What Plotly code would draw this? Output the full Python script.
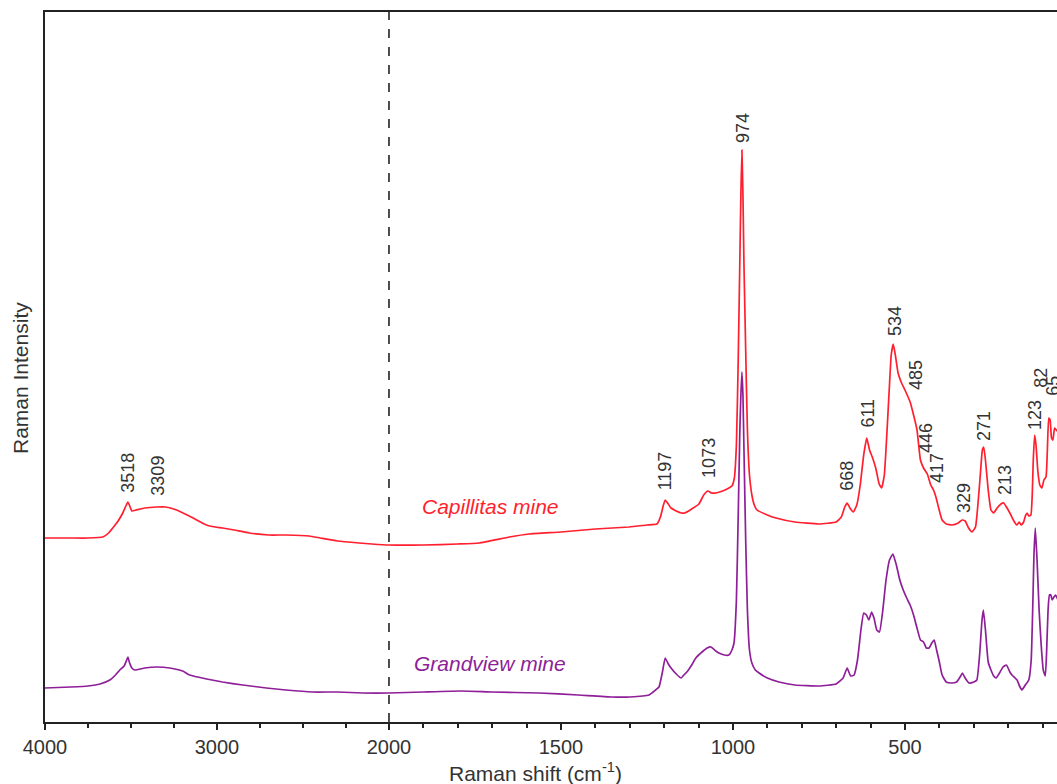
import plotly.graph_objects as go

# ---------------- data (Raman shift in cm-1, intensity in arbitrary units) ----------------
cap_shift = [4000, 3850, 3750, 3664, 3630, 3606, 3575, 3548, 3530, 3518, 3505, 3495, 3470, 3420,
             3351, 3300, 3235, 3150, 3061, 3010, 2968, 2900, 2812, 2700, 2600, 2464, 2400, 2300,
             2174, 2100, 2000, 1900, 1800, 1738, 1650, 1593, 1500, 1400, 1302, 1250, 1221, 1210,
             1203, 1197, 1190, 1180, 1165, 1150, 1140, 1120, 1099, 1085, 1073, 1062, 1050, 1030,
             1012, 1003, 996, 990, 985, 980, 977, 974, 971, 968, 963, 958, 952, 945, 938, 930,
             900, 875, 820, 750, 700, 685, 675, 668, 660, 650, 640, 630, 620, 611, 603, 595, 585,
             575, 568, 560, 552, 545, 540, 534, 528, 520, 510, 500, 485, 475, 465, 455, 446, 435,
             425, 417, 410, 402, 392, 380, 363, 345, 334, 325, 315, 305, 295, 288, 281, 275, 271,
             266, 258, 250, 242, 232, 221, 213, 205, 195, 185, 175, 168, 162, 155, 150, 145, 140,
             134, 130, 127, 123, 119, 114, 108, 102, 96, 90, 86, 82, 78, 74, 70, 65, 60, 55]
cap_int = [184, 184, 184, 185, 189, 194, 201, 209, 216, 220, 215, 211, 212, 214,
           215, 215, 212, 205, 197, 195, 194, 192, 189, 187, 187, 186, 184, 181,
           179, 178, 177, 177, 178, 179, 185, 188, 190, 193, 195, 197, 198, 206,
           216, 222, 219, 214, 211, 209, 209, 213, 218, 227, 231, 229, 229, 231,
           234, 236, 244, 277, 357, 462, 527, 572, 527, 457, 372, 292, 247, 227, 217, 212,
           207, 204, 200, 198, 200, 205, 215, 219, 214, 210, 217, 237, 267, 284, 272, 265, 254,
           238, 234, 247, 292, 337, 367, 378, 367, 349, 339, 332, 320, 307, 292, 262, 254, 248,
           237, 232, 225, 214, 202, 198, 197, 199, 202, 201, 194, 190, 195, 217, 247, 272, 275,
           262, 232, 212, 209, 214, 218, 219, 215, 209, 202, 197, 200, 197, 200, 206, 209, 206,
           207, 227, 262, 287, 277, 252, 237, 234, 242, 245, 272, 304, 302, 284, 282, 294, 292, 290]

grand_shift = [4000, 3850, 3750, 3680, 3623, 3590, 3565, 3540, 3525, 3518, 3510, 3495, 3478, 3420,
               3351, 3275, 3200, 3159, 3060, 2968, 2850, 2713, 2600, 2446, 2300, 2150, 2000, 1900,
               1788, 1700, 1564, 1450, 1352, 1300, 1244, 1225, 1215, 1205, 1197, 1188, 1180, 1165,
               1151, 1140, 1134, 1120, 1108, 1090, 1075, 1064, 1050, 1041, 1025, 1012, 1003, 997,
               990, 985, 980, 977, 974, 971, 968, 963, 958, 952, 945, 935, 924, 900, 866, 820,
               750, 700, 680, 668, 658, 648, 638, 628, 620, 612, 605, 597, 590, 582, 574, 565,
               555, 545, 535, 525, 515, 505, 495, 485, 475, 465, 455, 446, 438, 430, 422, 415,
               408, 400, 392, 380, 365, 350, 338, 333, 325, 314, 300, 291, 283, 276, 272, 266,
               258, 250, 242, 235, 225, 215, 205, 195, 189, 180, 174, 167, 160, 150, 140, 133,
               128, 125, 121, 116, 110, 104, 98, 92, 88, 84, 80, 76, 72, 67, 62, 55]
grand_int = [34, 35, 36, 38, 42, 47, 52, 56, 62, 65, 60, 54, 52, 54,
             55, 54, 51, 47, 43, 40, 37, 34, 32, 30, 30, 29, 29, 30,
             31, 30, 29, 27, 25, 25, 27, 32, 35, 50, 64, 58, 54, 48,
             44, 48, 50, 57, 64, 70, 74, 75, 71, 69, 67, 67, 72, 79,
             122, 202, 292, 327, 350, 327, 272, 182, 112, 72, 59, 52, 49, 44, 40, 37,
             36, 38, 44, 54, 46, 47, 62, 92, 109, 107, 102, 110, 104, 92, 90, 110,
             142, 162, 168, 157, 142, 132, 124, 117, 107, 94, 82, 80, 74, 74, 79, 82,
             72, 60, 47, 40, 39, 40, 46, 49, 44, 39, 40, 42, 67, 102, 112, 92,
             60, 52, 46, 44, 49, 55, 57, 50, 47, 44, 42, 36, 32, 37, 42, 62,
             122, 167, 194, 162, 112, 77, 52, 46, 72, 112, 127, 127, 122, 125, 127, 122]

peak_labels = ["3518", "3309", "1197", "1073", "974", "668", "611", "534", "485", "446",
               "417", "329", "271", "213", "123", "82", "65"]
label_shift = [3519, 3345, 1198, 1070, 971, 669, 610, 529, 468, 439,
               407, 328, 270, 209, 122, 105, 70]
label_height = [227, 224, 230, 242, 577, 229, 292, 384, 330, 267,
                237, 207, 279, 225, 290, 332, 324]

tick_shift = [4000, 3000, 2000, 1500, 1000, 500]
minor_shift = [3750, 3500, 3250, 2750, 2500, 2250,
               1900, 1800, 1700, 1600, 1400, 1300, 1200, 1100,
               900, 800, 700, 600, 400, 300, 200, 100]

RED = "#ff1f2e"
PURPLE = "#8e1f98"
TXT = "#333333"
FONT = "Liberation Sans, Arial, sans-serif"


def brk(v):
    """Broken axis: region above 2000 cm-1 is compressed by a factor of 2."""
    return v if v <= 2000 else 2000 + (v - 2000) / 2.0


fig = go.Figure()
fig.add_trace(go.Scatter(x=[brk(v) for v in cap_shift], y=cap_int, mode="lines",
                         line=dict(color=RED, width=1.7, shape="spline", smoothing=0.4),
                         name="Capillitas mine", showlegend=False))
fig.add_trace(go.Scatter(x=[brk(v) for v in grand_shift], y=grand_int, mode="lines",
                         line=dict(color=PURPLE, width=1.7, shape="spline", smoothing=0.4),
                         name="Grandview mine", showlegend=False))

annotations = []
for lab, xs, yh in zip(peak_labels, label_shift, label_height):
    annotations.append(dict(x=brk(xs), y=yh, xref="x", yref="y", text=lab, showarrow=False,
                            textangle=-90, xanchor="center", yanchor="bottom",
                            font=dict(family=FONT, size=18, color=TXT)))

annotations.append(dict(x=0.44, y=0.303, xref="paper", yref="paper",
                        text="<i>Capillitas mine</i>", showarrow=False,
                        xanchor="center", yanchor="middle",
                        font=dict(family=FONT, size=21, color=RED)))
annotations.append(dict(x=0.44, y=0.083, xref="paper", yref="paper",
                        text="<i>Grandview mine</i>", showarrow=False,
                        xanchor="center", yanchor="middle",
                        font=dict(family=FONT, size=21, color=PURPLE)))
annotations.append(dict(x=0.485, y=-0.0704, xref="paper", yref="paper",
                        text="Raman shift (cm<sup>-1</sup>)", showarrow=False,
                        xanchor="center", yanchor="middle",
                        font=dict(family=FONT, size=21, color=TXT)))
annotations.append(dict(x=-0.0247, y=0.4845, xref="paper", yref="paper",
                        text="Raman Intensity", showarrow=False, textangle=-90,
                        xanchor="center", yanchor="middle",
                        font=dict(family=FONT, size=21, color=TXT)))

fig.update_layout(
    width=1057, height=784,
    margin=dict(l=45, r=0, t=12, b=62),
    paper_bgcolor="white", plot_bgcolor="white",
    annotations=annotations,
    shapes=[dict(type="line", xref="x", yref="paper", x0=brk(2000), x1=brk(2000), y0=0, y1=1,
                 line=dict(color="#222222", width=1.6, dash="dash"))],
)
fig.update_xaxes(
    range=[3000, 58], showgrid=False, zeroline=False,
    showline=True, linecolor="#222222", linewidth=1.6, mirror=True,
    tickmode="array", tickvals=[brk(v) for v in tick_shift],
    ticktext=[str(v) for v in tick_shift],
    ticks="outside", ticklen=6, tickwidth=1.5, tickcolor="#222222",
    tickfont=dict(family=FONT, size=20, color=TXT),
    minor=dict(tickvals=[brk(v) for v in minor_shift], ticks="outside", ticklen=4,
               tickwidth=1.5, tickcolor="#222222", showgrid=False),
)
fig.update_yaxes(
    range=[0, 710], showgrid=False, zeroline=False, showticklabels=False,
    showline=True, linecolor="#222222", linewidth=1.6, ticks="",
)

fig.write_html("out.html")
